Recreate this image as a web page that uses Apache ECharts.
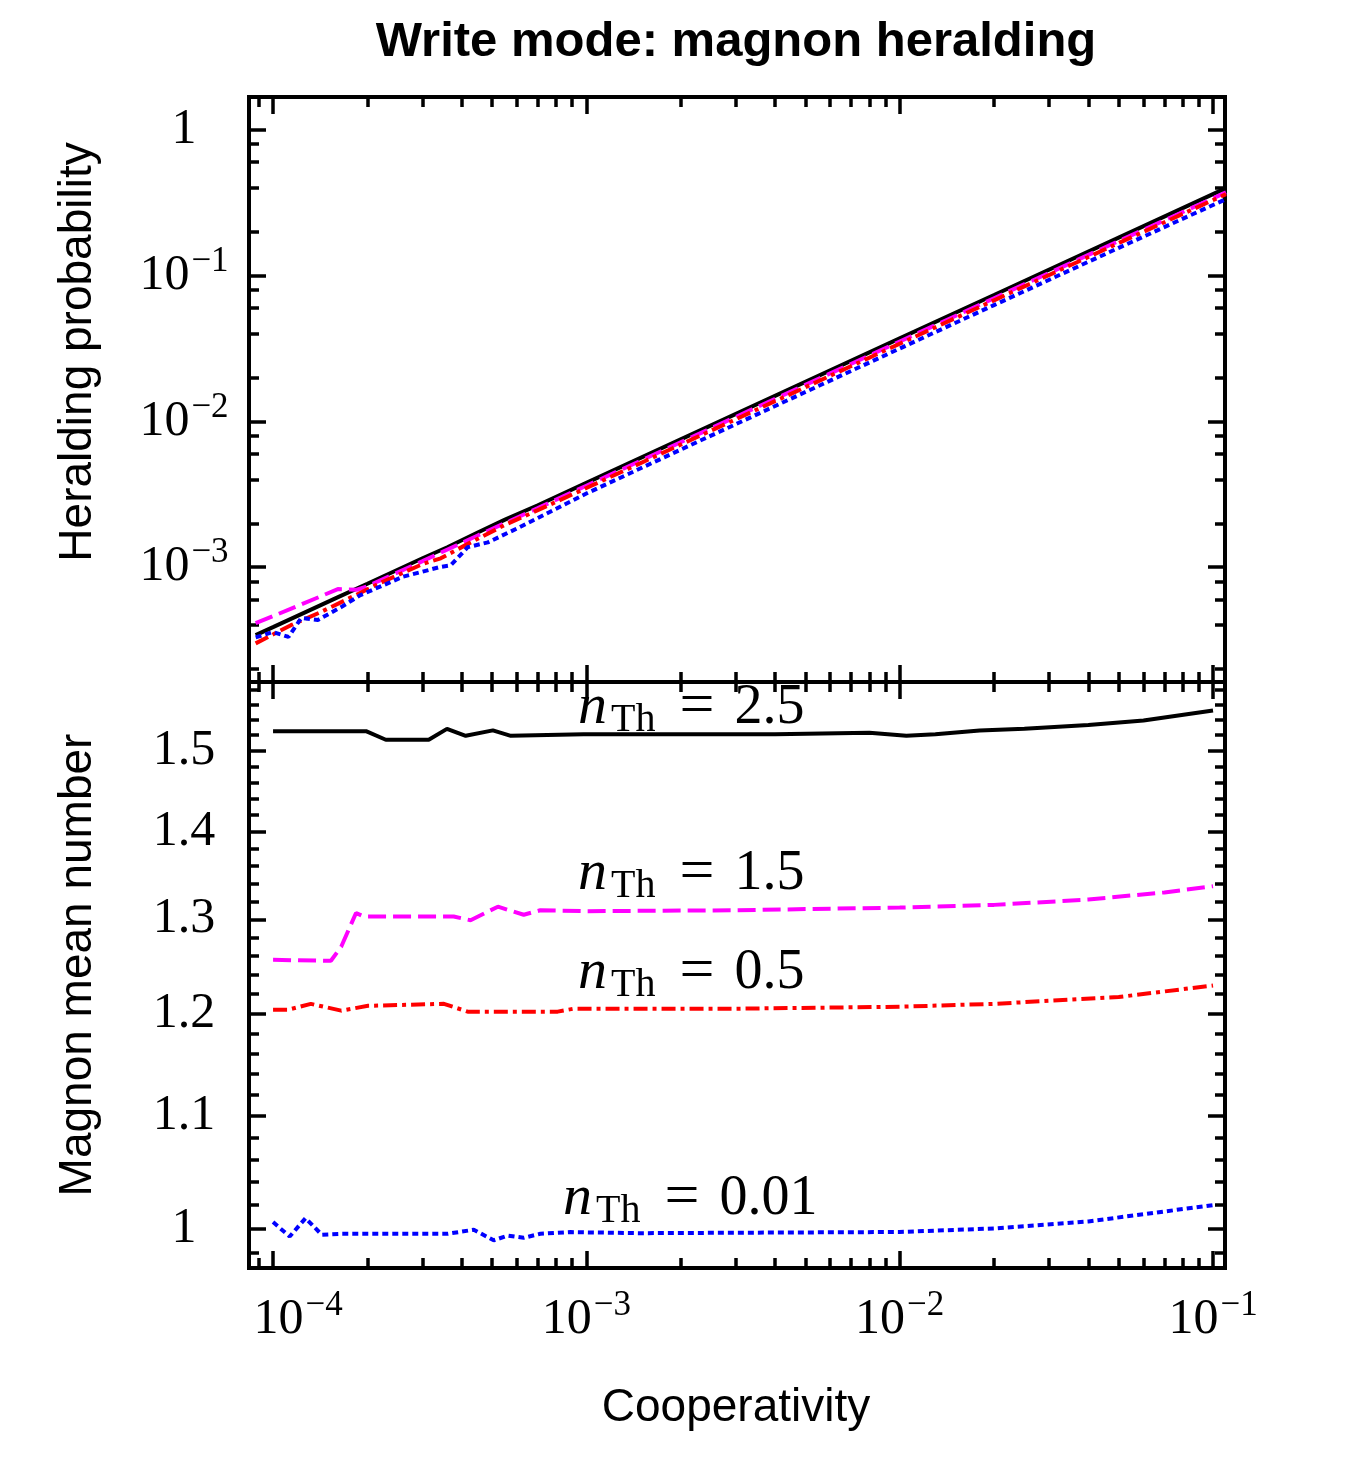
<!DOCTYPE html>
<html>
<head>
<meta charset="utf-8">
<title>Write mode: magnon heralding</title>
<script src="https://cdn.jsdelivr.net/npm/echarts@6/dist/echarts.min.js"></script>
<style>
  html, body { margin: 0; padding: 0; background: #fff; }
  #chart { width: 1355px; height: 1459px; }
</style>
</head>
<body>
<div id="chart"></div>
<script>
// ---- data -------------------------------------------------------------
// x axis (cooperativity, log scale), shared by both panels
var xRange = [8.38e-5, 0.1092];
var xMajor = [1e-4, 1e-3, 1e-2, 1e-1];
var xMinor = [9e-5,
  2e-4, 3e-4, 4e-4, 5e-4, 6e-4, 7e-4, 8e-4, 9e-4,
  2e-3, 3e-3, 4e-3, 5e-3, 6e-3, 7e-3, 8e-3, 9e-3,
  2e-2, 3e-2, 4e-2, 5e-2, 6e-2, 7e-2, 8e-2, 9e-2];
var xTickExp = ['\u22124', '\u22123', '\u22122', '\u22121'];

// top panel: heralding probability (log)
var topRange = [1.63e-4, 1.68];
var topMajor = [1e-3, 1e-2, 1e-1, 1];
var topMinor = [2e-4, 4e-4, 6e-4, 8e-4, 2e-3, 4e-3, 6e-3, 8e-3,
  2e-2, 4e-2, 6e-2, 8e-2, 0.2, 0.4, 0.6, 0.8];
var topTickLabels = ['10|\u22123', '10|\u22122', '10|\u22121', '1|'];

// bottom panel: magnon mean number (log)
var botRange = [0.967, 1.59];
var botMajor = [1.0, 1.1, 1.2, 1.3, 1.4, 1.5];
var botMinor = [0.98, 1.02, 1.04, 1.06, 1.08, 1.12, 1.14, 1.16, 1.18,
  1.22, 1.24, 1.26, 1.28, 1.32, 1.34, 1.36, 1.38, 1.42, 1.44, 1.46, 1.48,
  1.52, 1.54, 1.56, 1.58];
var botTickLabels = ['1', '1.1', '1.2', '1.3', '1.4', '1.5'];

var nThLabels = ['2.5', '1.5', '0.5', '0.01'];

// heralding probability vs cooperativity
var probBlack = [[8.8e-5, 3.42e-4], [1e-4, 3.88e-4], [1.25e-4, 4.84e-4], [1.6e-4, 6.18e-4],
  [2e-4, 7.70e-4], [3e-4, 1.151e-3], [3.6e-4, 1.37e-3], [4.5e-4, 1.73e-3], [5.5e-4, 2.12e-3],
  [7e-4, 2.66e-3], [1e-3, 3.79e-3], [2e-3, 7.53e-3], [5e-3, 1.866e-2], [1e-2, 3.71e-2],
  [2e-2, 7.36e-2], [5e-2, 0.1824], [0.11, 0.398]];
var probMagenta = [[8.8e-5, 4.13e-4], [1e-4, 4.61e-4], [1.4e-4, 6.23e-4], [1.61e-4, 7.07e-4],
  [1.85e-4, 7.0e-4], [2e-4, 7.4e-4], [3e-4, 1.10e-3], [4.5e-4, 1.65e-3], [7e-4, 2.54e-3],
  [1e-3, 3.62e-3], [2e-3, 7.19e-3], [5e-3, 1.78e-2], [1e-2, 3.53e-2], [2e-2, 7.0e-2],
  [5e-2, 0.1727], [0.11, 0.372]];
var probRed = [[8.8e-5, 3.0e-4], [1.14e-4, 4.0e-4], [1.4e-4, 4.85e-4], [1.8e-4, 6.3e-4],
  [2.2e-4, 7.8e-4], [3e-4, 1.05e-3], [3.43e-4, 1.15e-3], [4.2e-4, 1.45e-3], [5.5e-4, 1.95e-3],
  [7e-4, 2.46e-3], [1e-3, 3.49e-3], [2e-3, 6.93e-3], [5e-3, 1.716e-2], [1e-2, 3.41e-2],
  [2e-2, 6.77e-2], [5e-2, 0.1672], [0.11, 0.362]];
var probBlue = [[8.8e-5, 3.3e-4], [1e-4, 3.59e-4], [1.12e-4, 3.32e-4], [1.23e-4, 4.48e-4],
  [1.39e-4, 4.34e-4], [1.65e-4, 5.32e-4], [1.9e-4, 6.43e-4], [2.6e-4, 8.6e-4],
  [3.43e-4, 1.005e-3], [3.69e-4, 1.03e-3], [4.18e-4, 1.37e-3], [4.85e-4, 1.48e-3],
  [6.03e-4, 1.85e-3], [1e-3, 3.2e-3], [2e-3, 6.4e-3], [5e-3, 1.59e-2], [1e-2, 3.16e-2],
  [2e-2, 6.28e-2], [5e-2, 0.155], [0.11, 0.335]];

// magnon mean number vs cooperativity
var meanBlack = [[1e-4, 1.525], [1.98e-4, 1.525], [2.29e-4, 1.514], [3.14e-4, 1.514],
  [3.59e-4, 1.528], [4.12e-4, 1.519], [5.03e-4, 1.526], [5.74e-4, 1.519], [9.8e-4, 1.521],
  [2e-3, 1.521], [4e-3, 1.521], [8e-3, 1.523], [1.05e-2, 1.519], [1.3e-2, 1.521],
  [1.8e-2, 1.526], [2.5e-2, 1.528], [4e-2, 1.533], [6e-2, 1.539], [1e-1, 1.552]];
var meanMagenta = [[1e-4, 1.256], [1.53e-4, 1.255], [1.65e-4, 1.27], [1.84e-4, 1.307],
  [1.95e-4, 1.303], [3.77e-4, 1.303], [4.27e-4, 1.299], [5.22e-4, 1.314], [6.31e-4, 1.305],
  [7.13e-4, 1.31], [1e-3, 1.309], [3e-3, 1.31], [1e-2, 1.313], [2e-2, 1.316],
  [4e-2, 1.322], [7e-2, 1.33], [1e-1, 1.337]];
var meanRed = [[1e-4, 1.204], [1.12e-4, 1.204], [1.32e-4, 1.210], [1.65e-4, 1.203],
  [2.01e-4, 1.208], [3.51e-4, 1.210], [4.18e-4, 1.202], [8.1e-4, 1.202], [9.1e-4, 1.205],
  [3e-3, 1.205], [1e-2, 1.207], [2e-2, 1.21], [5e-2, 1.217], [1e-1, 1.229]];
var meanBlue = [[1e-4, 1.0054], [1.13e-4, 0.9932], [1.27e-4, 1.0088], [1.43e-4, 0.9947],
  [1.65e-4, 0.9955], [3.61e-4, 0.9955], [4.37e-4, 0.9989], [5.06e-4, 0.990], [5.61e-4, 0.994],
  [6.31e-4, 0.9921], [7.13e-4, 0.9955], [8.9e-4, 0.9969], [1.49e-3, 0.996], [1e-2, 0.997],
  [2e-2, 1.0], [4e-2, 1.006], [1e-1, 1.020]];

// ---- styles ------------------------------------------------------------
var SANS = '"Liberation Sans", Arial, sans-serif';
var SERIF = '"Liberation Serif", "Times New Roman", serif';
var LW = 4;

var GRID_L = 249, GRID_R = 1225;
var grids = [
  { left: GRID_L, top: 97, width: GRID_R - GRID_L, height: 585 },
  { left: GRID_L, top: 682, width: GRID_R - GRID_L, height: 586 }
];

var tickRich = {
  b: { fontFamily: SERIF, fontSize: 50, color: '#000' },
  e: { fontFamily: SERIF, fontSize: 35, color: '#000', padding: [0, 0, 28, 2] },
  p: { width: 50 }
};

function powLabel(v, exps) {
  var k = Math.round(Math.log10(v));
  var s = '{b|10}{e|' + exps[k + 4] + '}';
  // first label sits right of its tick in the original
  if (k === -4) s = '{p|}' + s;
  return s;
}

function makeAxes(gridIndex, positions, range, major, minor, label) {
  var out = [];
  positions.forEach(function (pos, k) {
    [true, false].forEach(function (isMajor) {
      var ax = {
        type: 'log', logBase: 10, gridIndex: gridIndex, position: pos,
        min: range[0], max: range[1],
        axisLine: { show: false, onZero: false },
        splitLine: { show: false },
        axisTick: {
          show: true, inside: true, length: isMajor ? 17 : 10,
          customValues: isMajor ? major : minor,
          lineStyle: { color: '#000', width: 3.5 }
        },
        axisLabel: { show: false }
      };
      if (isMajor && k === 0 && label) ax.axisLabel = label;
      out.push(ax);
    });
  });
  return out;
}

var xLabel = {
  show: true, customValues: xMajor, margin: 20,
  formatter: function (v) { return powLabel(v, xTickExp); },
  rich: tickRich
};
var topLabel = {
  show: true, customValues: topMajor, margin: 65, align: 'center',
  formatter: function (v) {
    var k = Math.round(Math.log10(v));
    var parts = topTickLabels[k + 3].split('|');
    return parts[1] ? '{b|' + parts[0] + '}{e|' + parts[1] + '}' : '{b|' + parts[0] + '}';
  },
  rich: tickRich
};
var botLabel = {
  show: true, customValues: botMajor, margin: 65, align: 'center',
  fontFamily: SERIF, fontSize: 50, color: '#000',
  formatter: function (v) {
    var i = Math.round((v - 1) * 10);
    return botTickLabels[i];
  }
};

var xAxes = [].concat(
  makeAxes(0, ['bottom', 'top'], xRange, xMajor, xMinor, null),
  makeAxes(1, ['bottom', 'top'], xRange, xMajor, xMinor, xLabel)
);
var yAxes = [].concat(
  makeAxes(0, ['left', 'right'], topRange, topMajor, topMinor, topLabel),
  makeAxes(1, ['left', 'right'], botRange, botMajor, botMinor, botLabel)
);

function lineSeries(data, panel, color, dash) {
  return {
    type: 'line', data: data, xAxisIndex: panel * 4, yAxisIndex: panel * 4,
    showSymbol: false, symbol: 'none', smooth: false, silent: true, clip: true,
    lineStyle: { color: color, width: LW, type: dash, cap: 'butt' }
  };
}

var DASH = [18, 7], DASHDOT = [14, 5, 4, 5], DOT = [6, 4];

var series = [
  lineSeries(probBlack, 0, '#000000', 'solid'),
  lineSeries(probMagenta, 0, '#ff00ff', DASH),
  lineSeries(probRed, 0, '#ff0000', DASHDOT),
  lineSeries(probBlue, 0, '#0000ff', DOT),
  lineSeries(meanBlack, 1, '#000000', 'solid'),
  lineSeries(meanMagenta, 1, '#ff00ff', DASH),
  lineSeries(meanRed, 1, '#ff0000', DASHDOT),
  lineSeries(meanBlue, 1, '#0000ff', DOT)
];

// n_Th annotations (left x, centre y in pixels)
var annoPos = [[578, 708], [578, 874], [578, 973], [563, 1199]];
var annoRich = {
  n: { fontFamily: SERIF, fontStyle: 'italic', fontSize: 58, color: '#000', padding: [0, 4, 0, 0] },
  s: { fontFamily: SERIF, fontSize: 40, color: '#000', padding: [24, 24, 0, 0] },
  q: { fontFamily: SERIF, fontSize: 62, color: '#000', padding: [0, 20, 0, 0] },
  v: { fontFamily: SERIF, fontSize: 56, color: '#000' }
};
var graphics = nThLabels.map(function (val, i) {
  return {
    type: 'text', x: annoPos[i][0], y: annoPos[i][1], silent: true,
    style: {
      text: '{n|n}{s|Th}{q|=}{v|' + val + '}', rich: annoRich,
      align: 'left', verticalAlign: 'middle', textAlign: 'left', textVerticalAlign: 'middle'
    }
  };
});

function plainText(str, x, y, size, weight, rot) {
  return {
    type: 'text', x: x, y: y, rotation: rot || 0, silent: true,
    style: {
      text: str, fill: '#000', fontFamily: SANS, fontSize: size, fontWeight: weight,
      align: 'center', verticalAlign: 'middle', textAlign: 'center', textVerticalAlign: 'middle'
    }
  };
}
graphics.push(plainText('Write mode: magnon heralding', 736, 42, 49, 'bold'));
graphics.push(plainText('Cooperativity', 736, 1408, 46, 'normal'));
graphics.push(plainText('Heralding probability', 78, 352, 46, 'normal', Math.PI / 2));
graphics.push(plainText('Magnon mean number', 78, 965, 46, 'normal', Math.PI / 2));

// panel frames
grids.forEach(function (g) {
  g.show = true;
  g.borderColor = '#000';
  g.borderWidth = 4;
  g.backgroundColor = 'transparent';
  g.outerBoundsMode = 'none';
  g.containLabel = false;
});

var chart = echarts.init(document.getElementById('chart'), null, { renderer: 'canvas' });
chart.setOption({
  backgroundColor: '#ffffff',
  animation: false,
  grid: grids,
  xAxis: xAxes,
  yAxis: yAxes,
  series: series,
  graphic: graphics
});
</script>
</body>
</html>
